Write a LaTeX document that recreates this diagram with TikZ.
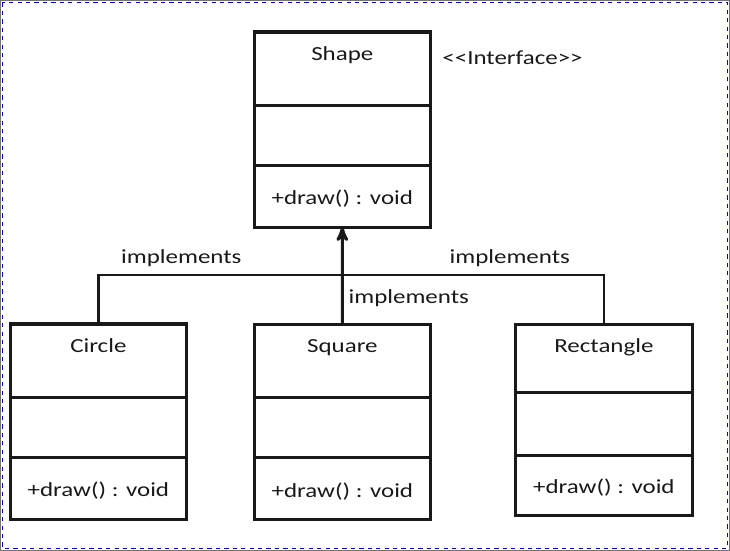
\documentclass[tikz,border=0pt]{standalone}
\usepackage{fontspec}
\setmainfont{Carlito}[FakeStretch=1.25]
\usetikzlibrary{arrows,positioning}

\begin{document}
\begin{tikzpicture}[x=0.025cm,y=-0.025cm,>=stealth',
    font=\fontsize{14.2}{17}\selectfont]
  \tikzstyle{part}=[draw=black!90,line width=2.2pt,inner sep=0pt,outer sep=0pt,
                    minimum width=4.41cm,text=black!90]
  \tikzstyle{head}=[part,minimum height=1.84cm,text height=0.7cm,text depth=1.14cm]
  \tikzstyle{attrs}=[part,minimum height=1.5cm]
  \tikzstyle{ops}=[part,minimum height=1.54cm,text height=0.42cm,text depth=0pt]
  \tikzstyle{link}=[draw=black!90,line width=1.6pt]
  \tikzstyle{tag}=[text=black!90]
  \useasboundingbox (0,0) rectangle (730,551);
  % frame
  \draw [black!55,line width=0.5pt] (0.5,0.5) rectangle (729.5,550.5);
  \draw [blue!65!black,dashed,line width=1pt] (2.5,2.5) rectangle (727.5,548.5);
  % interface
  \node [head,anchor=north] (s1) at (342.3,32) {Shape};
  \node [attrs] (s2) [below=0pt of s1] {};
  \node [ops] (s3) [below=0pt of s2] {+draw() : void};
  \node [tag,anchor=base] (iface) at (512.5,65) {<{}<Interface>{}>};
  % classes
  \node [head,anchor=north] (c1) at (98.4,324) {Circle};
  \node [attrs] (c2) [below=0pt of c1] {};
  \node [ops] (c3) [below=0pt of c2] {+draw() : void};
  \node [head,anchor=north] (q1) at (342.4,324.3) {Square};
  \node [attrs] (q2) [below=0pt of q1] {};
  \node [ops] (q3) [below=0pt of q2] {+draw() : void};
  \node [head,anchor=north,minimum height=1.7cm,text depth=1cm] (r1)
    at (603.9,324.3) {Rectangle};
  \node [attrs,minimum height=1.57cm] (r2) [below=0pt of r1] {};
  \node [ops,minimum height=1.5cm] (r3) [below=0pt of r2] {+draw() : void};
  % connectors
  \coordinate (bar) at (342.4,275);
  \draw [link] (c1.north) |- node [tag,pos=0.67,above=1.5pt] {implements} (bar)
    -| node [tag,pos=0.32,above=1.5pt] {implements} (r1.north);
  \draw [link,->,line width=2.2pt] (q1.north)
    -- node [tag,pos=0.265,right] {implements} (s3.south);
\end{tikzpicture}
\end{document}
